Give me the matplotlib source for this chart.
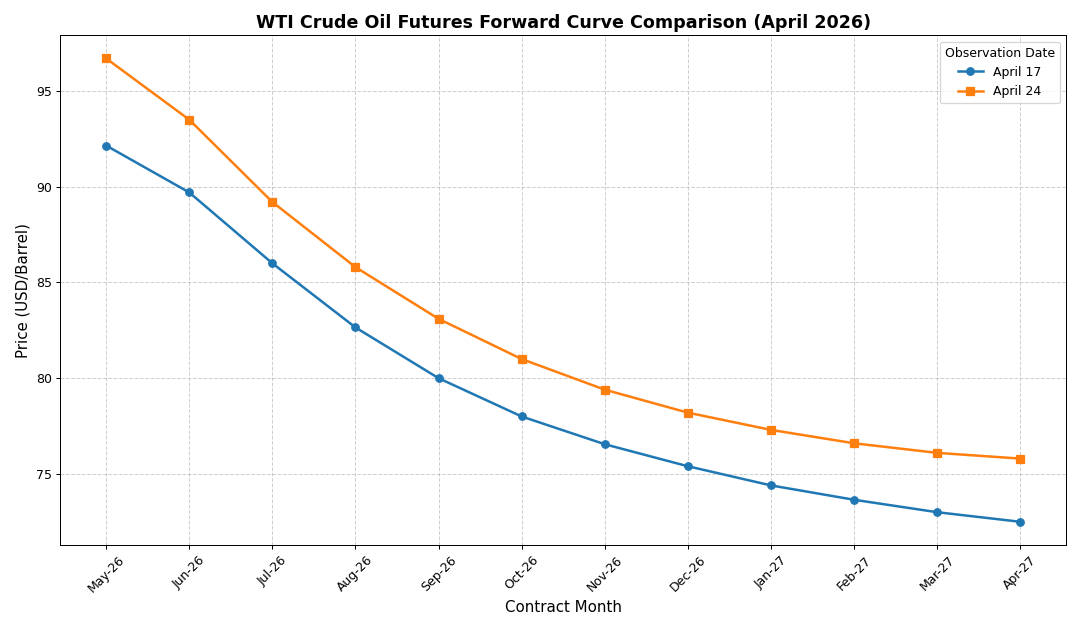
import numpy as np
import matplotlib
matplotlib.use("Agg")
import matplotlib.pyplot as plt

months = ["May-26", "Jun-26", "Jul-26", "Aug-26", "Sep-26", "Oct-26",
          "Nov-26", "Dec-26", "Jan-27", "Feb-27", "Mar-27", "Apr-27"]
april_17 = [92.15, 89.7, 86.0, 82.65, 80.0, 78.0, 76.55, 75.4, 74.4, 73.65, 73.0, 72.5]
april_24 = [96.7, 93.5, 89.2, 85.8, 83.1, 81.0, 79.4, 78.2, 77.3, 76.6, 76.1, 75.8]

# drawn as a 12x7 figure at 90 dpi -> 1080x630
fig, ax = plt.subplots(figsize=(12, 7), dpi=90)
fig.subplots_adjust(left=0.056, right=0.987, top=0.944, bottom=0.135)

x = np.arange(len(months))
ax.plot(x, april_17, marker="o", color="#1f77b4", lw=2, markersize=6, label="April 17")
ax.plot(x, april_24, marker="s", color="#ff7f0e", lw=2, markersize=6, label="April 24")

ax.set_xticks(x)
ax.set_xticklabels(months, rotation=45)
ax.set_title("WTI Crude Oil Futures Forward Curve Comparison (April 2026)",
             fontsize=14, fontweight="bold")
ax.set_xlabel("Contract Month", fontsize=12)
ax.set_ylabel("Price (USD/Barrel)", fontsize=12)
ax.grid(True, linestyle="--", alpha=0.6)
ax.legend(title="Observation Date", loc="upper right")

fig.savefig("out.png", dpi=90)
